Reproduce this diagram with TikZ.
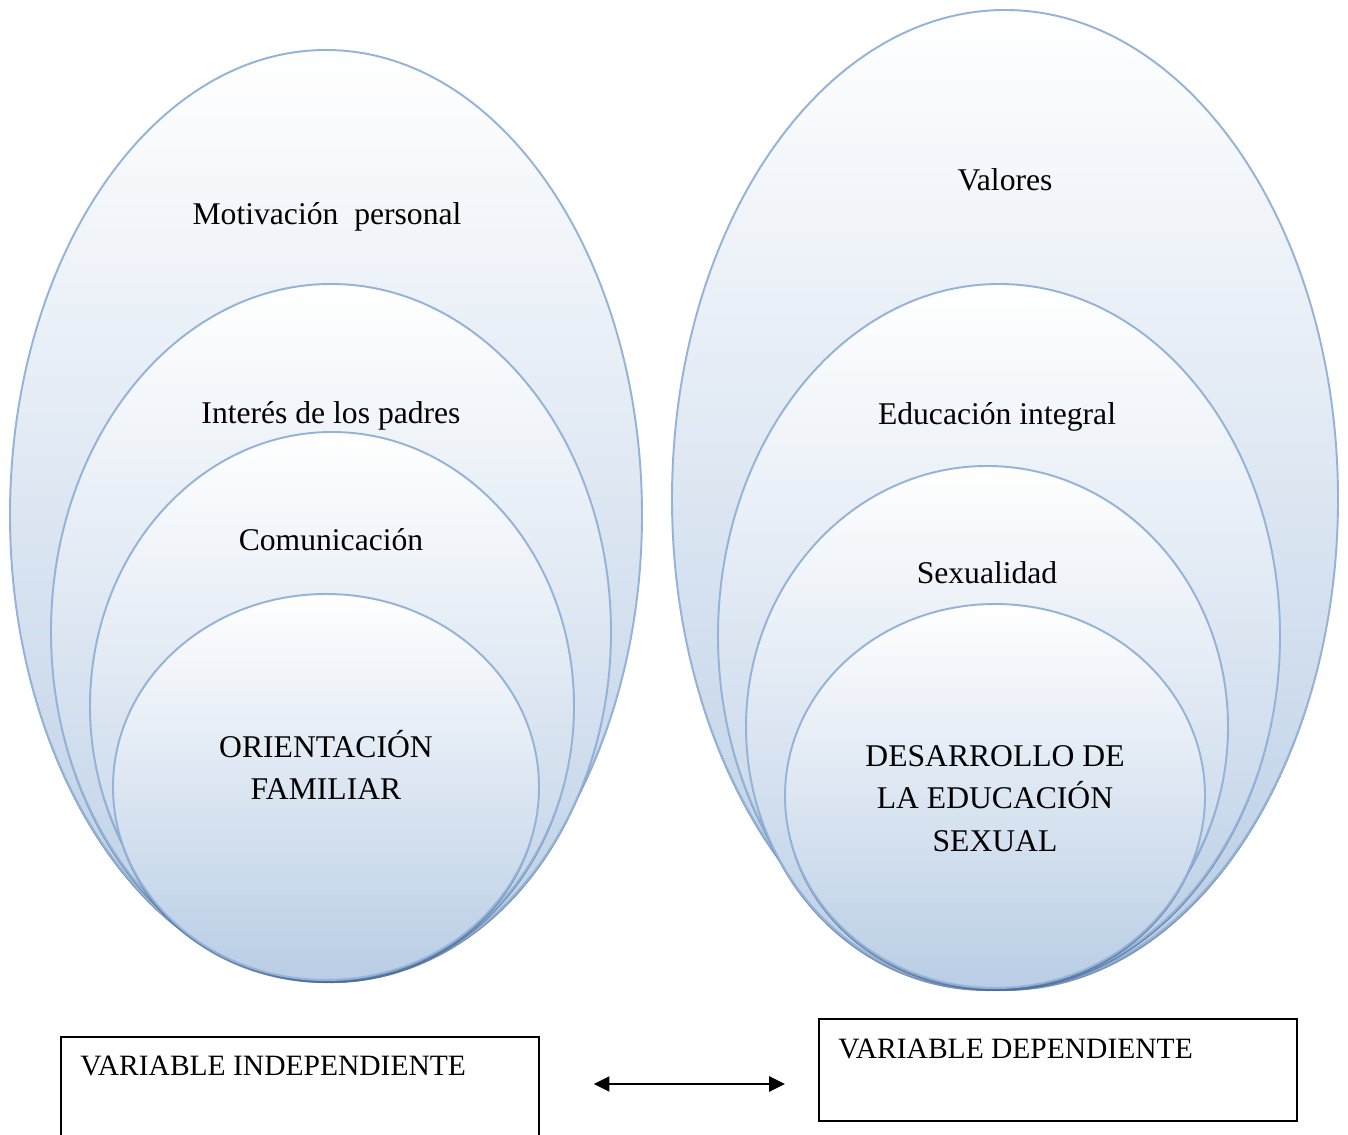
\documentclass[tikz,border=0pt]{standalone}
\usepackage{fontspec}
\setmainfont{Liberation Serif}
\usetikzlibrary{arrows,arrows.meta,calc}
\definecolor{ringline}{HTML}{95B3D7}
\definecolor{ringfill}{HTML}{B9CDE5}
\definecolor{ringdark}{HTML}{4F6F9B}
\tikzset{
  ring/.style={draw=ringline,line width=1.1pt,top color=white,middle color=ringfill!42,bottom color=ringfill},
  ringshadow/.style={fill=ringdark,opacity=.75},
  label/.style={font=\fontsize{18}{24}\selectfont,anchor=base,inner sep=0pt},
  varbox/.style={draw,line width=1pt,rectangle,anchor=north west,inner sep=0pt},
  vartext/.style={font=\fontsize{16.8}{20}\selectfont,anchor=base west,inner sep=0pt},
  bothtips/.style={{Triangle[length=9pt,width=8.5pt]}-{Triangle[length=9pt,width=8.5pt]},line width=1.4pt}
}
\begin{document}
\begin{tikzpicture}[x=0.02cm,y=-0.02cm]
\clip(0,0)rectangle(1348,1135);
\useasboundingbox(0,0)rectangle(1348,1135);
%orientacion familiar
\foreach \cx/\cy/\rx/\ry in {326/515/316/465,331/632/280/348,332/706/242/274,326/787/213/193}{
\fill[ringshadow](\cx,\cy+3)ellipse[x radius=\rx,y radius=\ry];
\draw[ring](\cx,\cy)ellipse[x radius=\rx,y radius=\ry];
}
%educacion sexual
\foreach \cx/\cy/\rx/\ry in {1005/499/333/489,999/636/281/352,987/727/241/261,995/796/210/192}{
\fill[ringshadow](\cx,\cy+3)ellipse[x radius=\rx,y radius=\ry];
\draw[ring](\cx,\cy)ellipse[x radius=\rx,y radius=\ry];
}
%labels
\node[label](motiv)at(327,224){Motivación\ \ personal};
\node[label](interes)at(331,423){Interés de los padres};
\node[label](comun)at(331,550){Comunicación};
\node[label](orient1)at(326,757){ORIENTACIÓN};
\node[label](orient2)at(326,799){FAMILIAR};
\node[label](valores)at(1005,191){Valores};
\node[label](integral)at(997,424){Educación integral};
\node[label](sexual)at(987,583){Sexualidad};
\node[label](desa1)at(995,766){DESARROLLO DE};
\node[label](desa2)at(995,808){LA EDUCACIÓN};
\node[label](desa3)at(995,851){SEXUAL};
%variables
\node[varbox,minimum width=9.56cm,minimum height=2.6cm](indep)at(60,1036){};
\node[vartext](indeptxt)at(80,1075){VARIABLE INDEPENDIENTE};
\node[varbox,minimum width=9.56cm,minimum height=2.04cm](dep)at(818,1018){};
\node[vartext](deptxt)at(838,1058){VARIABLE DEPENDIENTE};
\coordinate(mid)at(0,1084);
\draw[bothtips,shorten <=1.08cm,shorten >=.66cm](indep.east|-mid)--(dep.west|-mid);
\end{tikzpicture}
\end{document}
